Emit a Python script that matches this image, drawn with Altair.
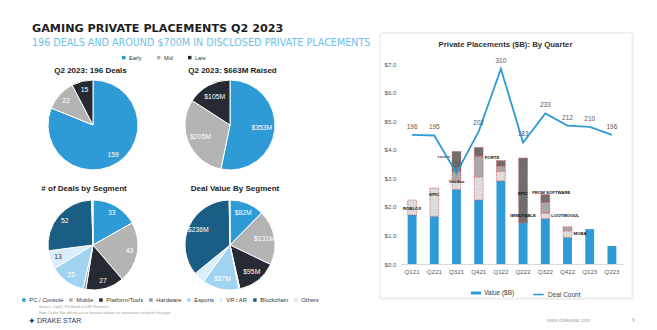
import altair as alt
import pandas as pd

# ---------------- data ----------------
quarters = ["Q121", "Q221", "Q321", "Q421", "Q122", "Q222", "Q322", "Q422", "Q123", "Q223"]
value_b = [1.72, 1.67, 2.61, 2.24, 2.91, 1.44, 1.59, 0.93, 1.22, 0.63]
deal_count = [196, 195, 130, 202, 310, 183, 233, 212, 210, 196]

# notable-deal (logo) blocks stacked on top of the blue bars
seg_quarter = ["Q121", "Q221", "Q321", "Q321", "Q321", "Q421", "Q421", "Q421",
               "Q122", "Q122", "Q122", "Q222", "Q322", "Q322", "Q322", "Q422", "Q422"]
seg_low = [1.72, 1.67, 2.61, 2.91, 3.25, 2.24, 3.05, 3.77, 2.91, 3.25, 3.43, 1.44, 1.59, 1.78, 2.16, 0.93, 1.16]
seg_high = [2.24, 2.66, 2.91, 3.25, 3.94, 3.05, 3.77, 4.08, 3.25, 3.43, 3.62, 3.71, 1.78, 2.16, 2.43, 1.16, 1.30]
seg_tone = ["light", "light", "light", "mid", "dark", "light", "mid", "dark",
            "light", "mid", "dark", "dark", "light", "mid", "dark", "light", "mid"]

logo_center_name = ["ROBLOX", "EPIC", "Voodoo", "EPIC", "IMMUTABLE"]
logo_center_q = ["Q121", "Q221", "Q321", "Q222", "Q222"]
logo_center_v = [1.92, 2.40, 2.87, 2.45, 1.68]
logo_left_name = ["sorare"]
logo_left_q = ["Q321"]
logo_left_v = [3.74]
logo_right_name = ["FORTE", "LOOTMOGUL", "MOBA"]
logo_right_q = ["Q421", "Q322", "Q422"]
logo_right_v = [3.70, 1.68, 1.05]
logo_shift_name = ["FROM SOFTWARE"]
logo_shift_q = ["Q322"]
logo_shift_v = [2.50]

stages = ["Early", "Mid", "Late"]
stage_deals = [159, 22, 15]
stage_value = [353, 205, 105]

segments = ["PC / Console", "Mobile", "Platform/Tools", "Hardware", "Esports", "VR / AR", "Blockchain", "Others"]
segment_deals = [33, 43, 27, 2, 25, 13, 52, 1]
segment_value = [82, 131, 95, 3, 87, 27, 236, 2]

# ---------------- style ----------------
FONT = "Liberation Sans"
BLUE = "#2E9BD6"
stage_colors = ["#2E9BD6", "#B4B4B4", "#262B33"]
segment_colors = ["#2E9BD6", "#B4B4B4", "#262B33", "#8C9DB5", "#9FD3F0", "#D9EEF9", "#1B5E85", "#E3E3E3"]

PL, PT, W, H = 401, 64, 222, 200   # plot area of the bar chart inside the 657x330 canvas

one = pd.DataFrame({"k": [0]})


def label(txt, X, Y, size, color="#222222", weight="normal", align="left", font=FONT):
    return alt.Chart(one).mark_text(
        text=txt, fontSize=size, color=color, fontWeight=weight, align=align,
        baseline="alphabetic", font=font
    ).encode(x=alt.value(X - PL), y=alt.value(Y - PT))


def pie(cats, vals, labels, tcolors, domain, rng, cx, cy, r_lab, legend):
    df = pd.DataFrame({"cat": cats, "v": vals, "idx": list(range(len(cats))),
                       "lab": labels, "tc": tcolors})
    base = alt.Chart(df)
    arc = base.mark_arc(radius=45, stroke="white", strokeWidth=1).encode(
        theta=alt.Theta("v:Q", stack=True),
        color=alt.Color("cat:N", scale=alt.Scale(domain=domain, range=rng), legend=legend),
        order=alt.Order("idx:Q"),
        x=alt.value(cx - PL), y=alt.value(cy - PT),
    )
    txt = base.mark_text(radius=r_lab, fontSize=6.8, font=FONT).encode(
        theta=alt.Theta("v:Q", stack=True),
        text="lab:N",
        color=alt.Color("tc:N", scale=None),
        order=alt.Order("idx:Q"),
        x=alt.value(cx - PL), y=alt.value(cy - PT),
    )
    return alt.layer(arc, txt)


stage_legend = alt.Legend(orient="none", legendX=121 - PL, legendY=54.5 - PT, direction="horizontal",
                          columns=3, title=None, symbolType="square", symbolSize=12,
                          symbolStrokeWidth=0, labelFontSize=5.5, labelColor="#333333",
                          labelOffset=2.5, columnPadding=14, labelFont=FONT)
segment_legend = alt.Legend(orient="none", legendX=21 - PL, legendY=297 - PT, direction="horizontal",
                            columns=8, title=None, symbolType="square", symbolSize=12,
                            symbolStrokeWidth=0, labelFontSize=5.8, labelColor="#333333",
                            labelOffset=2.5, columnPadding=4, labelFont=FONT)

W_ = "white"
pie1 = pie(stages, stage_deals, [str(v) for v in stage_deals], [W_, W_, W_],
           stages, stage_colors, 93, 125, 36, stage_legend)
pie2 = pie(stages, stage_value, ["$%dM" % v for v in stage_value], [W_, W_, W_],
           stages, stage_colors, 230, 125, 32, None)
seg_deal_labels = [str(v) if s not in ("Hardware", "Others") else "" for s, v in zip(segments, segment_deals)]
seg_val_labels = ["$%dM" % v if s not in ("Hardware", "Others", "VR / AR") else "" for s, v in zip(segments, segment_value)]
seg_tc = [W_, W_, W_, W_, W_, "#333333", W_, W_]
pie3 = pie(segments, segment_deals, seg_deal_labels, seg_tc, segments, segment_colors, 93, 245, 37, segment_legend)
pie4 = pie(segments, segment_value, seg_val_labels, seg_tc, segments, segment_colors, 230, 245, 35, None)

# ---------------- card + bar/line chart ----------------
shadow = alt.Chart(one).mark_rect(fill="#f1f1f1", cornerRadius=3).encode(
    x=alt.value(379 - PL), x2=alt.value(634 - PL), y=alt.value(32 - PT), y2=alt.value(300 - PT))
card = alt.Chart(one).mark_rect(fill="white", stroke="#e9e9e9", strokeWidth=0.8, cornerRadius=2).encode(
    x=alt.value(380 - PL), x2=alt.value(632 - PL), y=alt.value(33 - PT), y2=alt.value(298 - PT))

qdf = pd.DataFrame({"quarter": quarters, "value": value_b, "count": deal_count,
                    "series": "Value ($B)", "line": "Deal Count"})
sdf = pd.DataFrame({"quarter": seg_quarter, "low": seg_low, "high": seg_high, "tone": seg_tone})

xenc = alt.X("quarter:N", sort=quarters,
             scale=alt.Scale(domain=quarters, paddingInner=0.6, paddingOuter=0.3),
             axis=alt.Axis(title=None, labelAngle=0, ticks=False, domainColor="#D9D9D9",
                           labelFontSize=6.2, labelColor="#595959", labelPadding=4, labelFont=FONT,
                           zindex=1))
vscale = alt.Scale(domain=[0, 7])
cscale = alt.Scale(domain=[-27, 318.5])

blue = alt.Chart(qdf).mark_bar().encode(
    x=xenc,
    y=alt.Y("value:Q", scale=vscale,
            axis=alt.Axis(values=[0, 1, 2, 3, 4, 5, 6, 7], format="$.1f", title=None, domain=False,
                          ticks=False, grid=False, labelFontSize=6.2, labelColor="#595959",
                          labelPadding=5, labelFont=FONT, orient="left", zindex=1,
                          labelOverlap=False, labelFlush=False)),
    color=alt.Color("series:N", scale=alt.Scale(domain=["Value ($B)"], range=[BLUE]),
                    legend=alt.Legend(orient="none", legendX=471 - PL, legendY=288 - PT, title=None,
                                      symbolType="M-1,-0.3H1V0.3H-1Z", symbolSize=100,
                                      symbolStrokeWidth=0, labelFontSize=6.5, labelColor="#404040",
                                      labelOffset=3, labelFont=FONT)),
)
grey = alt.Chart(sdf).mark_bar(stroke="#E0504F", strokeWidth=0.7, strokeDash=[1.5, 1]).encode(
    x=xenc,
    y=alt.Y("low:Q", scale=vscale, axis=alt.Axis(values=[0, 1, 2, 3, 4, 5, 6, 7], labelOverlap=False)),
    y2="high:Q",
    fill=alt.Fill("tone:N", scale=alt.Scale(domain=["light", "mid", "dark"],
                                            range=["#DCDCDC", "#A8A8A8", "#6E6E6E"]), legend=None),
)


def logos(names, qs, vs, align, dx, color="#111111"):
    d = pd.DataFrame({"quarter": qs, "v": vs, "name": names})
    return alt.Chart(d).mark_text(fontSize=4.3, fontWeight="bold", align=align, dx=dx, color=color,
                                  font=FONT).encode(
        x=xenc,
        y=alt.Y("v:Q", scale=vscale, axis=alt.Axis(values=[0, 1, 2, 3, 4, 5, 6, 7], labelOverlap=False)),
        text="name:N")


bars = alt.layer(
    blue, grey,
    logos(logo_center_name, logo_center_q, logo_center_v, "center", 0),
    logos(logo_left_name, logo_left_q, logo_left_v, "right", -6, "#3B3F6B"),
    logos(logo_right_name, logo_right_q, logo_right_v, "left", 6),
    logos(logo_shift_name, logo_shift_q, logo_shift_v, "center", 6),
)

line = alt.Chart(qdf).mark_line(strokeWidth=1.8).encode(
    x=xenc,
    y=alt.Y("count:Q", scale=cscale, axis=None),
    stroke=alt.Stroke("line:N", scale=alt.Scale(domain=["Deal Count"], range=[BLUE]),
                      legend=alt.Legend(orient="none", legendX=532 - PL, legendY=288 - PT, title=None,
                                        symbolType="stroke", symbolSize=110, symbolStrokeWidth=1.6,
                                        labelFontSize=6.5, labelColor="#404040", labelOffset=3,
                                        labelFont=FONT)),
)
line_text = alt.Chart(qdf).mark_text(dy=-8, fontSize=6.5, color="#595959", font=FONT).encode(
    x=xenc, y=alt.Y("count:Q", scale=cscale, axis=None), text="count:Q")
lines = alt.layer(line, line_text)

texts = [
    label("GAMING PRIVATE PLACEMENTS Q2 2023", 32, 31.5, 11.2, "#1E1E1E", "bold", font="DejaVu Sans"),
    label("196 DEALS AND AROUND $700M IN DISCLOSED PRIVATE PLACEMENTS", 32, 45.5, 9.6, "#6EC1EA",
          font="DejaVu Sans"),
    label("Q2 2023: 196 Deals", 90.5, 72.5, 8, "#222222", "bold", "center"),
    label("Q2 2023: $663M Raised", 232.5, 72.5, 8, "#222222", "bold", "center"),
    label("# of Deals by Segment", 84, 191, 8, "#222222", "bold", "center"),
    label("Deal Value By Segment", 235, 191, 8, "#222222", "bold", "center"),
    label("Source: CapIQ, Pitchbook & DSP Research", 39, 308, 3.6, "#9A9A9A"),
    label("Note: Drake Star did not act as financial advisor on transactions listed on this page", 39, 313.5,
          3.6, "#9A9A9A"),
    label("\u2726", 28, 324, 9, "#1F3A5F", font="DejaVu Sans"),
    label("DRAKE STAR", 37, 323, 7, "#1F3A5F"),
    label("www.drakestar.com", 547, 322, 5, "#A8A8A8"),
    label("9", 632, 322, 5, "#A8A8A8"),
    label("Private Placements ($B): By Quarter", 505.5, 47, 7.8, "#333333", "bold", "center"),
]

chart = alt.layer(
    shadow, card, pie1, pie2, pie3, pie4, *texts, bars, lines
).resolve_scale(
    y="independent", theta="independent", color="independent"
).properties(
    width=W, height=H,
    autosize=alt.AutoSizeParams(type="none"),
    padding={"left": PL, "top": PT, "right": 657 - PL - W, "bottom": 330 - PT - H},
    background="white",
).configure(font=FONT).configure_view(stroke=None)

chart.save("out.html", embed_options={"renderer": "svg", "actions": False})
